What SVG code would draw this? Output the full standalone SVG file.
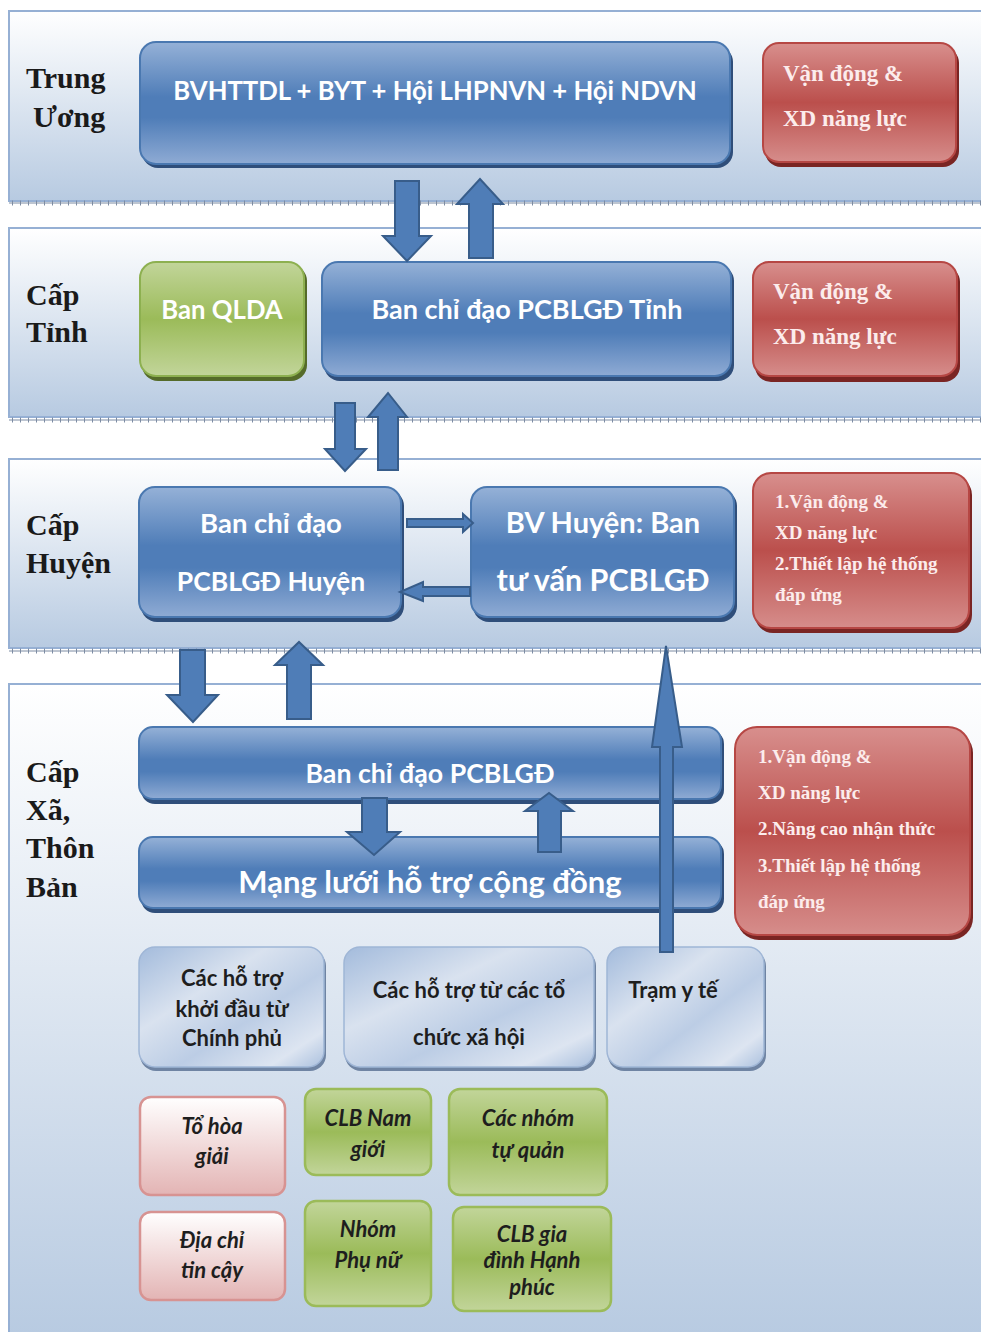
<svg xmlns="http://www.w3.org/2000/svg" width="981" height="1332" viewBox="0 0 981 1332">
<defs>
<linearGradient id="gBand" x1="0" y1="0" x2="0" y2="1"><stop offset="0" stop-color="#ffffff"/><stop offset="1" stop-color="#b7cae1"/></linearGradient>
<linearGradient id="gBlue" x1="0" y1="0" x2="0" y2="1"><stop offset="0" stop-color="#95b1d7"/><stop offset="0.45" stop-color="#4f7db8"/><stop offset="0.62" stop-color="#4f7db8"/><stop offset="1" stop-color="#8fabd4"/></linearGradient>
<linearGradient id="gRed" x1="0" y1="0" x2="0" y2="1"><stop offset="0" stop-color="#d88f8d"/><stop offset="0.5" stop-color="#bb4f4c"/><stop offset="1" stop-color="#d68d8b"/></linearGradient>
<linearGradient id="gGreen" x1="0" y1="0" x2="0" y2="1"><stop offset="0" stop-color="#c2d59a"/><stop offset="0.5" stop-color="#9bbb59"/><stop offset="1" stop-color="#c2d59a"/></linearGradient>
<linearGradient id="gPink" x1="0" y1="0" x2="0" y2="1"><stop offset="0" stop-color="#ffffff"/><stop offset="1" stop-color="#e3b4b4"/></linearGradient>
<linearGradient id="gLight" x1="0" y1="0" x2="1" y2="1"><stop offset="0" stop-color="#a3bbdc"/><stop offset="0.35" stop-color="#d9e2ef"/><stop offset="0.6" stop-color="#bccde5"/><stop offset="0.85" stop-color="#dde5f1"/><stop offset="1" stop-color="#aac0de"/></linearGradient>
<style>
.band{fill:url(#gBand);stroke:#96b0d4;stroke-width:2}
.tick{stroke:#7d8ca3;stroke-width:1}
.ticks{stroke:#7d8ca3;stroke-width:5;stroke-dasharray:1 7}
.lvl{font-family:"Liberation Serif",serif;font-weight:bold;font-size:30px;fill:#1a1a1a}
.blue{fill:url(#gBlue);stroke:#4a78b0;stroke-width:2}
.bsh{fill:#2f4e7a}
.red{fill:url(#gRed);stroke:#b64744;stroke-width:2}
.rsh{fill:#7a2523}
.green{fill:url(#gGreen);stroke:#8db050;stroke-width:2}
.gsh{fill:#556b2a}
.light{fill:url(#gLight);stroke:#9fb6d6;stroke-width:1.5}
.lsh{fill:#6f84a3}
.pink{fill:url(#gPink);stroke:#d79392;stroke-width:2.5}
.sg{fill:url(#gGreen);stroke:#9bbb59;stroke-width:2.5}
.bt{font-family:Lato,"Liberation Sans",sans-serif;font-weight:bold;fill:#ffffff;text-anchor:middle}
.rt{font-family:"Liberation Serif",serif;font-weight:bold;fill:#fcecec}
.dt{font-family:Lato,"Liberation Sans",sans-serif;font-weight:bold;fill:#1e1e1e;font-size:22px;text-anchor:middle}
.it{font-family:Lato,"Liberation Sans",sans-serif;font-weight:bold;font-style:italic;fill:#1e1e1e;font-size:22px;text-anchor:middle}
.arr{fill:#4f7db7;stroke:#385d8a;stroke-width:2;stroke-linejoin:miter}
</style>
</defs>

<g id="bands">
<rect class="band" x="9" y="11" width="980" height="190"/>
<line class="tick" x1="9" y1="203" x2="981" y2="203"/><line class="ticks" x1="12" y1="203" x2="981" y2="203"/>
<rect class="band" x="9" y="228" width="980" height="189"/>
<line class="tick" x1="9" y1="420" x2="981" y2="420"/><line class="ticks" x1="12" y1="420" x2="981" y2="420"/>
<rect class="band" x="9" y="459" width="980" height="189"/>
<line class="tick" x1="9" y1="651" x2="981" y2="651"/><line class="ticks" x1="12" y1="651" x2="981" y2="651"/>
<rect class="band" x="9" y="684" width="980" height="660"/>
</g>

<g id="labels">
<text class="lvl" x="26" y="88">Trung</text>
<text class="lvl" x="33" y="127">Ương</text>
<text class="lvl" x="26" y="305">Cấp</text>
<text class="lvl" x="26" y="342">Tỉnh</text>
<text class="lvl" x="26" y="535">Cấp</text>
<text class="lvl" x="26" y="573">Huyện</text>
<text class="lvl" x="26" y="782">Cấp</text>
<text class="lvl" x="26" y="820">Xã,</text>
<text class="lvl" x="26" y="858">Thôn</text>
<text class="lvl" x="26" y="897">Bản</text>
</g>

<g id="n-tw">
<rect class="bsh" x="142" y="46" width="591" height="122" rx="16"/>
<rect class="blue" x="140" y="42" width="590" height="122" rx="16"/>
<text class="bt" x="435" y="100" font-size="25.7">BVHTTDL + BYT + Hội LHPNVN + Hội NDVN</text>
</g>
<g id="n-tw-red">
<rect class="rsh" x="765" y="47" width="194" height="120" rx="16"/>
<rect class="red" x="763" y="43" width="193" height="119" rx="16"/>
<text class="rt" x="783" y="81" font-size="23">Vận động &amp;</text>
<text class="rt" x="783" y="126" font-size="23">XD năng lực</text>
</g>

<g id="n-qlda">
<rect class="gsh" x="142" y="265" width="165" height="116" rx="16"/>
<rect class="green" x="140" y="262" width="164" height="114" rx="16"/>
<text class="bt" x="222" y="319" font-size="25.7">Ban QLDA</text>
</g>
<g id="n-tinh">
<rect class="bsh" x="324" y="265" width="410" height="116" rx="16"/>
<rect class="blue" x="322" y="262" width="409" height="114" rx="16"/>
<text class="bt" x="527" y="319" font-size="27">Ban chỉ đạo PCBLGĐ Tỉnh</text>
</g>
<g id="n-tinh-red">
<rect class="rsh" x="755" y="266" width="205" height="116" rx="16"/>
<rect class="red" x="753" y="262" width="204" height="114" rx="16"/>
<text class="rt" x="773" y="299" font-size="23">Vận động &amp;</text>
<text class="rt" x="773" y="344" font-size="23">XD năng lực</text>
</g>

<g id="n-huyen">
<rect class="bsh" x="141" y="490" width="263" height="132" rx="16"/>
<rect class="blue" x="139" y="487" width="262" height="130" rx="16"/>
<text class="bt" x="271" y="533" font-size="27.5">Ban chỉ đạo</text>
<text class="bt" x="271" y="591" font-size="26.5">PCBLGĐ Huyện</text>
</g>
<g id="n-bvhuyen">
<rect class="bsh" x="473" y="490" width="264" height="132" rx="16"/>
<rect class="blue" x="471" y="487" width="263" height="130" rx="16"/>
<text class="bt" x="603" y="533" font-size="29">BV Huyện: Ban</text>
<text class="bt" x="603" y="591" font-size="30.5">tư vấn PCBLGĐ</text>
</g>
<g id="n-huyen-red">
<rect class="rsh" x="755" y="477" width="217" height="156" rx="18"/>
<rect class="red" x="753" y="473" width="216" height="155" rx="18"/>
<text class="rt" x="775" y="508" font-size="19">1.Vận động &amp;</text>
<text class="rt" x="775" y="539" font-size="19">XD năng lực</text>
<text class="rt" x="775" y="570" font-size="19">2.Thiết lập hệ thống</text>
<text class="rt" x="775" y="601" font-size="19">đáp ứng</text>
</g>

<g id="n-xa">
<rect class="bsh" x="141" y="730" width="583" height="74" rx="14"/>
<rect class="blue" x="139" y="727" width="582" height="72" rx="14"/>
<text class="bt" x="430" y="783" font-size="26.7">Ban chỉ đạo PCBLGĐ</text>
</g>
<g id="n-mangluoi">
<rect class="bsh" x="141" y="840" width="583" height="73" rx="14"/>
<rect class="blue" x="139" y="837" width="582" height="71" rx="14"/>
<text class="bt" x="430" y="893" font-size="31">Mạng lưới hỗ trợ cộng đồng</text>
</g>
<g id="n-xa-red">
<rect class="rsh" x="737" y="731" width="236" height="209" rx="22"/>
<rect class="red" x="735" y="727" width="235" height="208" rx="22"/>
<text class="rt" x="758" y="763" font-size="19">1.Vận động &amp;</text>
<text class="rt" x="758" y="799" font-size="19">XD năng lực</text>
<text class="rt" x="758" y="835" font-size="19">2.Nâng cao nhận thức</text>
<text class="rt" x="758" y="872" font-size="19">3.Thiết lập hệ thống</text>
<text class="rt" x="758" y="908" font-size="19">đáp ứng</text>
</g>

<g id="n-chinhphu">
<rect class="lsh" x="140" y="950" width="186" height="121" rx="16"/>
<rect class="light" x="139" y="947" width="185" height="120" rx="16"/>
<text class="dt" x="232" y="986">Các hỗ trợ</text>
<text class="dt" x="232" y="1017">khởi đầu từ</text>
<text class="dt" x="232" y="1046">Chính phủ</text>
</g>
<g id="n-tochuc">
<rect class="lsh" x="345" y="950" width="251" height="121" rx="16"/>
<rect class="light" x="344" y="947" width="250" height="120" rx="16"/>
<text class="dt" x="469" y="998">Các hỗ trợ từ các tổ</text>
<text class="dt" x="469" y="1045">chức xã hội</text>
</g>
<g id="n-tramyte">
<rect class="lsh" x="608" y="950" width="158" height="121" rx="16"/>
<rect class="light" x="607" y="947" width="157" height="120" rx="16"/>
<text class="dt" x="673" y="998">Trạm y tế</text>
</g>

<g id="n-hoagiai">
<rect class="pink" x="140" y="1097" width="145" height="98" rx="11"/>
<text class="it" x="212" y="1134">Tổ hòa</text>
<text class="it" x="212" y="1164">giải</text>
</g>
<g id="n-diachi">
<rect class="pink" x="140" y="1212" width="145" height="88" rx="11"/>
<text class="it" x="212" y="1248">Địa chỉ</text>
<text class="it" x="212" y="1278">tin cậy</text>
</g>
<g id="n-clbnam">
<rect class="sg" x="305" y="1089" width="126" height="86" rx="11"/>
<text class="it" x="368" y="1126">CLB Nam</text>
<text class="it" x="368" y="1157">giới</text>
</g>
<g id="n-tuquan">
<rect class="sg" x="449" y="1089" width="158" height="106" rx="11"/>
<text class="it" x="528" y="1126">Các nhóm</text>
<text class="it" x="528" y="1158">tự quản</text>
</g>
<g id="n-phunu">
<rect class="sg" x="305" y="1201" width="126" height="105" rx="11"/>
<text class="it" x="368" y="1237">Nhóm</text>
<text class="it" x="368" y="1268">Phụ nữ</text>
</g>
<g id="n-hanhphuc">
<rect class="sg" x="453" y="1207" width="158" height="104" rx="11"/>
<text class="it" x="532" y="1242">CLB gia</text>
<text class="it" x="532" y="1268">đình Hạnh</text>
<text class="it" x="532" y="1295">phúc</text>
</g>

<g id="connectors">
<polygon class="arr" points="395,181 419,181 419,236 431,236 407,261 383,236 395,236"/>
<polygon class="arr" points="469,258 493,258 493,204 503,204 480,179 457,204 469,204"/>
<polygon class="arr" points="335,403 355,403 355,449 366,449 345,471 325,449 335,449"/>
<polygon class="arr" points="378,470 398,470 398,417 407,417 388,393 368,417 378,417"/>
<polygon class="arr" points="407,519 463,519 463,514 473,523 463,532 463,527 407,527"/>
<polygon class="arr" points="470,587 423,587 423,582 400,592 423,601 423,596 470,596"/>
<polygon class="arr" points="180,650 205,650 205,695 218,695 193,722 167,695 180,695"/>
<polygon class="arr" points="287,719 311,719 311,665 323,665 299,642 275,665 287,665"/>
<polygon class="arr" points="362,798 387,798 387,832 400,832 374,855 347,832 362,832"/>
<polygon class="arr" points="538,852 561,852 561,811 573,811 549,793 525,811 538,811"/>
<polygon class="arr" points="660,952 673,952 673,747 682,747 666,646 652,747 660,747"/>
</g>
</svg>
